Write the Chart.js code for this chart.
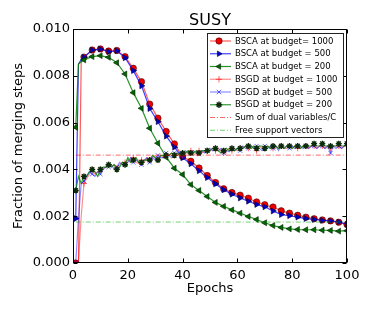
<!DOCTYPE html>
<html><head><meta charset="utf-8">
<script src="https://cdn.jsdelivr.net/npm/chart.js@4"></script>
<style>html,body{margin:0;padding:0;background:#fff}#c{display:block}</style>
</head><body>
<canvas id="c" width="374" height="311"></canvas>
<script>
// ---- data ----
const titleText = 'SUSY';
const xLabel = 'Epochs';
const yLabel = 'Fraction of merging steps';
const xTicks = [0, 20, 40, 60, 80, 100];
const yTicks = [0.000, 0.002, 0.004, 0.006, 0.008, 0.010];

const seriesLabels = [
  'BSCA at budget= 1000', 'BSCA at budget = 500', 'BSCA at budget = 200',
  'BSGD at budget = 1000', 'BSGD at budget = 500', 'BSGD at budget = 200',
  'Sum of dual variables/C', 'Free support vectors'
];

const bscaEpochs = [1,2,3,4,7,10,13,16,19,22,25,28,31,34,37,40,43,46,49,52,55,58,61,64,67,70,73,76,79,82,85,88,91,94,97,100];
const bsca1000 = [0,0,0.0086,0.0088,0.00910,0.00915,0.00906,0.00908,0.00882,0.00832,0.00775,0.00679,0.00619,0.00562,0.00509,0.00455,0.00435,0.00406,0.00374,0.00344,0.00317,0.00301,0.00290,0.00277,0.00261,0.00249,0.00239,0.00223,0.00213,0.00204,0.00196,0.00189,0.00184,0.00180,0.00174,0.00164];
const bsca500 = [0.0019,0.0085,0.0087,0.00879,0.00910,0.00914,0.00903,0.00907,0.00877,0.00822,0.00757,0.00660,0.00604,0.00542,0.00495,0.00450,0.00424,0.00394,0.00365,0.00338,0.00313,0.00294,0.00278,0.00264,0.00250,0.00240,0.00222,0.00207,0.00202,0.00196,0.00190,0.00186,0.00182,0.00180,0.00175,0.00166];
const bsca200 = [0.0058,0.0085,0.0086,0.00868,0.00882,0.00886,0.00879,0.00856,0.00808,0.00728,0.00661,0.00576,0.00512,0.00452,0.00405,0.00378,0.00335,0.00310,0.00284,0.00259,0.00242,0.00227,0.00213,0.00199,0.00186,0.00172,0.00160,0.00152,0.00146,0.00143,0.00142,0.00142,0.00140,0.00139,0.00136,0.00138];

const bsgdEpochs = [1,2,3,4,5,6,7,8,9,10,11,12,13,14,15,16,17,18,19,20,21,22,23,24,25,26,27,28,29,30,31,32,33,34,35,36,37,38,39,40,41,42,43,44,45,46,47,48,49,50,51,52,53,54,55,56,57,58,59,60,61,62,63,64,65,66,67,68,69,70,71,72,73,74,75,76,77,78,79,80,81,82,83,84,85,86,87,88,89,90,91,92,93,94,95,96,97,98,99,100];
const bsgd1000 = [0,0.0001,0.0020,0.0034,0.0036,0.0038,0.0040,0.0038,0.0039,0.0040,
  0.00405,0.0041,0.0042,0.0041,0.0042,0.00405,0.0042,0.0043,0.0043,0.0044,
  0.0043,0.0045,0.0043,0.00425,0.0044,0.0043,0.0045,0.0044,0.0045,0.0046,
  0.0044,0.0046,0.0045,0.0046,0.0046,0.0047,0.0046,0.0047,0.0046,0.0046,
  0.0047,0.0047,0.0048,0.0046,0.0047,0.0048,0.0047,0.0048,0.0048,0.0048,
  0.0049,0.0048,0.0049,0.0048,0.0047,0.0048,0.0049,0.0048,0.0049,0.0048,
  0.0049,0.0049,0.0050,0.0049,0.0050,0.0049,0.0048,0.0050,0.0049,0.0049,
  0.0050,0.0049,0.0049,0.0050,0.0049,0.0050,0.0049,0.0049,0.0050,0.0049,
  0.0050,0.0049,0.0049,0.0050,0.0050,0.0049,0.0050,0.0050,0.0049,0.0050,
  0.0050,0.0049,0.0050,0.0049,0.0050,0.0050,0.0050,0.0049,0.0050,0.0050];
const bsgd500 = [0,0.0019,0.0034,0.0035,0.0037,0.0039,0.0038,0.0037,0.0039,0.0038,
  0.0040,0.0041,0.0041,0.0042,0.0040,0.0041,0.0043,0.0042,0.0042,0.0043,
  0.0045,0.0043,0.0044,0.0043,0.0042,0.0044,0.0045,0.0043,0.0045,0.0044,
  0.0046,0.0045,0.0045,0.0047,0.0046,0.0045,0.0047,0.0046,0.0047,0.0046,
  0.0048,0.0047,0.0047,0.0048,0.0047,0.00465,0.0048,0.0047,0.0048,0.0049,
  0.0048,0.0049,0.0048,0.0049,0.0047,0.0048,0.00475,0.0049,0.0048,0.0049,
  0.0048,0.0050,0.0049,0.0049,0.0050,0.0049,0.0050,0.0049,0.0048,0.0050,
  0.0049,0.0050,0.0049,0.0050,0.0048,0.0050,0.0049,0.0050,0.0049,0.0050,
  0.0049,0.0050,0.0050,0.0049,0.0050,0.0049,0.0050,0.0050,0.0049,0.0050,
  0.0050,0.0049,0.0050,0.0047,0.0050,0.0049,0.0050,0.0049,0.0050,0.0051];
const bsgd200 = [0.0031,0.0037,0.0034,0.0037,0.0037,0.0039,0.0040,0.0039,0.0037,0.0040,
  0.0041,0.0041,0.0042,0.0041,0.0042,0.0040,0.0041,0.0043,0.0042,0.0045,
  0.0043,0.0044,0.0045,0.0043,0.0043,0.0044,0.0044,0.0044,0.0046,0.0045,
  0.0044,0.0046,0.0046,0.0046,0.0046,0.0047,0.0046,0.0047,0.0046,0.0047,
  0.0047,0.0048,0.0047,0.0047,0.0048,0.0047,0.0048,0.0048,0.0048,0.0048,
  0.0049,0.0049,0.0048,0.0047,0.0048,0.0049,0.0048,0.0049,0.0048,0.0049,
  0.0049,0.0049,0.0050,0.0050,0.0049,0.0050,0.0049,0.0050,0.0050,0.0049,
  0.0050,0.0049,0.0050,0.0050,0.0049,0.0050,0.0049,0.0050,0.0050,0.0049,
  0.0050,0.0050,0.0049,0.0050,0.0050,0.0050,0.0050,0.0051,0.0050,0.0050,
  0.0051,0.0050,0.0050,0.0050,0.0050,0.0050,0.0051,0.0050,0.0050,0.0051];

const lineEpochs = [1, 100];
const sumDualLevel = [0.00461, 0.00461];
const freeSvLevel = [0.00175, 0.00175];

// ---- build ----
const pts = (xs, ys) => xs.map((x, i) => ({x, y: ys[i]}));
const markEvery = (r) => (c) => (c.raw && (c.raw.x - 1) % 3 === 0 ? r : 0);
const FONT = "'DejaVu Sans', 'Liberation Sans', sans-serif";

const datasets = [
  {label: seriesLabels[0], data: pts(bscaEpochs, bsca1000), borderColor: 'rgba(255,0,0,0.65)', borderWidth: 1.2,
   pointStyle: 'circle', pointRadius: markEvery(3.2), pointBackgroundColor: '#ee0000', pointBorderColor: 'rgba(60,0,0,0.9)', pointBorderWidth: 0.6, order: 8},
  {label: seriesLabels[1], data: pts(bscaEpochs, bsca500), borderColor: 'rgba(0,0,255,0.75)', borderWidth: 1.2,
   pointStyle: 'triangle', pointRotation: 90, pointRadius: markEvery(3.4), pointBackgroundColor: '#0000cc', pointBorderColor: '#000033', pointBorderWidth: 0.6, order: 7},
  {label: seriesLabels[2], data: pts(bscaEpochs, bsca200), borderColor: 'rgba(0,128,0,0.85)', borderWidth: 1.2,
   pointStyle: 'triangle', pointRotation: -90, pointRadius: markEvery(3.4), pointBackgroundColor: '#006600', pointBorderColor: '#002200', pointBorderWidth: 0.6, order: 6},
  {label: seriesLabels[3], data: pts(bsgdEpochs, bsgd1000), borderColor: 'rgba(255,0,0,0.45)', borderWidth: 1.2,
   pointStyle: 'cross', pointRadius: markEvery(3), pointBackgroundColor: 'rgba(255,0,0,0.6)', pointBorderColor: 'rgba(255,0,0,0.6)', pointBorderWidth: 1, order: 5},
  {label: seriesLabels[4], data: pts(bsgdEpochs, bsgd500), borderColor: 'rgba(0,0,255,0.45)', borderWidth: 1.2,
   pointStyle: 'crossRot', pointRadius: markEvery(3), pointBackgroundColor: 'rgba(0,0,255,0.6)', pointBorderColor: 'rgba(0,0,255,0.6)', pointBorderWidth: 1, order: 4},
  {label: seriesLabels[5], data: pts(bsgdEpochs, bsgd200), borderColor: 'rgba(0,128,0,0.8)', borderWidth: 1.2,
   pointStyle: 'star', pointRadius: markEvery(3), pointBackgroundColor: '#003300', pointBorderColor: '#0a2a0a', pointBorderWidth: 1.4, order: 3},
  {label: seriesLabels[6], data: pts(lineEpochs, sumDualLevel), borderColor: 'rgba(255,0,0,0.6)', borderWidth: 1,
   borderDash: [5, 2, 1, 2], pointRadius: 0, order: 2},
  {label: seriesLabels[7], data: pts(lineEpochs, freeSvLevel), borderColor: 'rgba(0,170,0,0.55)', borderWidth: 1,
   borderDash: [5, 2, 1, 2], pointRadius: 0, order: 1}
];

const framePlugin = {
  id: 'frame',
  afterDatasetsDraw(chart) {
    const {ctx, chartArea: a, scales: {x, y}} = chart;
    ctx.save();
    ctx.strokeStyle = '#000';
    ctx.lineWidth = 1;
    const L = Math.round(a.left) + 0.5, R = Math.round(a.right) - 0.5;
    const T = Math.round(a.top) + 0.5, B = Math.round(a.bottom) - 0.5;
    ctx.strokeRect(L, T, R - L, B - T);
    ctx.beginPath();
    xTicks.forEach(v => {
      const px = Math.round(x.getPixelForValue(v)) + 0.5;
      ctx.moveTo(px, B); ctx.lineTo(px, B - 4);
      ctx.moveTo(px, T); ctx.lineTo(px, T + 4);
    });
    yTicks.forEach(v => {
      const py = Math.round(y.getPixelForValue(v)) + 0.5;
      ctx.moveTo(L, py); ctx.lineTo(L + 4, py);
      ctx.moveTo(R, py); ctx.lineTo(R - 4, py);
    });
    ctx.stroke();
    ctx.restore();
  },
  afterDraw(chart) {
    const {ctx, chartArea: a} = chart;
    ctx.save();
    // title
    ctx.fillStyle = '#000';
    ctx.font = '16px ' + FONT;
    ctx.textAlign = 'center';
    ctx.textBaseline = 'middle';
    ctx.fillText(titleText, (a.left + a.right) / 2, 21);
    // legend
    const bx = 207.5, by = 33.5, bw = 136, bh = 104;
    ctx.fillStyle = '#fff';
    ctx.fillRect(bx, by, bw, bh);
    ctx.strokeStyle = '#222';
    ctx.lineWidth = 1;
    ctx.strokeRect(bx, by, bw, bh);
    ctx.font = '8.5px ' + FONT;
    ctx.textAlign = 'left';
    chart.data.datasets.forEach((ds, i) => {
      const yy = 41 + i * 12.75;
      ctx.save();
      ctx.strokeStyle = ds.borderColor;
      ctx.lineWidth = ds.borderWidth;
      ctx.setLineDash(ds.borderDash || []);
      ctx.beginPath(); ctx.moveTo(210, yy); ctx.lineTo(231, yy); ctx.stroke();
      ctx.setLineDash([]);
      if (ds.pointStyle) {
        ctx.fillStyle = ds.pointBackgroundColor;
        ctx.strokeStyle = ds.pointBorderColor;
        ctx.lineWidth = ds.pointBorderWidth;
        Chart.helpers.drawPoint(ctx, {pointStyle: ds.pointStyle, rotation: ds.pointRotation || 0,
          radius: 3.2, borderWidth: ds.pointBorderWidth}, 219, yy);
      }
      ctx.restore();
      ctx.fillStyle = '#000';
      ctx.fillText(ds.label, 235, yy + 0.5);
    });
    ctx.restore();
  }
};

new Chart(document.getElementById('c'), {
  type: 'line',
  data: {datasets},
  options: {
    responsive: false,
    animation: false,
    devicePixelRatio: 1,
    layout: {padding: {left: 0, right: 27, top: 29, bottom: 0}},
    plugins: {legend: {display: false}, tooltip: {enabled: false}, title: {display: false}},
    elements: {line: {tension: 0}},
    scales: {
      x: {
        type: 'linear', min: 0, max: 100,
        afterBuildTicks: s => { s.ticks = xTicks.map(v => ({value: v})); },
        afterFit: s => { s.height = 48; },
        grid: {display: false, drawTicks: false},
        border: {display: false},
        ticks: {color: '#000', padding: 5, font: {family: FONT, size: 13}, maxRotation: 0},
        title: {display: true, text: xLabel, color: '#000', font: {family: FONT, size: 13}, padding: {top: 0, bottom: 15}}
      },
      y: {
        type: 'linear', min: 0, max: 0.01,
        afterBuildTicks: s => { s.ticks = yTicks.map(v => ({value: v})); },
        afterFit: s => { s.width = 73; },
        grid: {display: false, drawTicks: false},
        border: {display: false},
        ticks: {color: '#000', padding: 3, font: {family: FONT, size: 13}, callback: v => Number(v).toFixed(3)},
        title: {display: true, text: yLabel, color: '#000', font: {family: FONT, size: 13}, padding: {top: 11, bottom: 0}}
      }
    }
  },
  plugins: [framePlugin]
});
</script>
</body></html>
